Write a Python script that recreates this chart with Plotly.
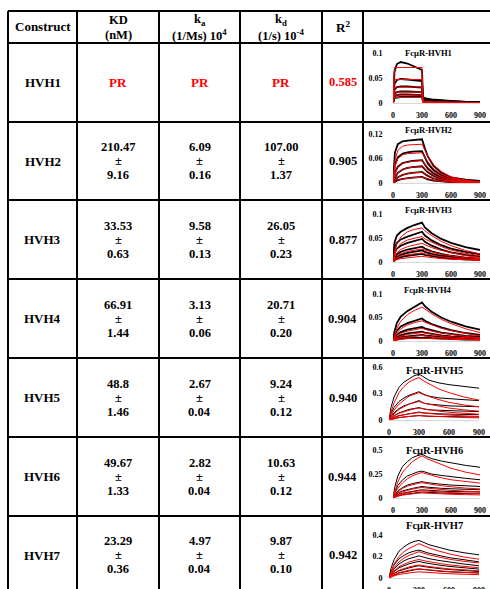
import plotly.graph_objects as go

# ---------------- table data ----------------
constructs = ["HVH1", "HVH2", "HVH3", "HVH4", "HVH5", "HVH6", "HVH7"]
kd_nm = ["PR", "210.47", "33.53", "66.91", "48.8", "49.67", "23.29"]
kd_nm_err = [None, "9.16", "0.63", "1.44", "1.46", "1.33", "0.36"]
ka_vals = ["PR", "6.09", "9.58", "3.13", "2.67", "2.82", "4.97"]
ka_err = [None, "0.16", "0.13", "0.06", "0.04", "0.04", "0.04"]
kdis_vals = ["PR", "107.00", "26.05", "20.71", "9.24", "10.63", "9.87"]
kdis_err = [None, "1.37", "0.23", "0.20", "0.12", "0.12", "0.10"]
r2_vals = ["0.585", "0.905", "0.877", "0.904", "0.940", "0.944", "0.942"]
poor = [True, False, False, False, False, False, False]

# ---------------- sensorgram data ----------------
t_hvh1 = [0, 15, 40, 80, 150, 220, 300, 310, 340, 400, 500, 600, 750, 900]
hvh1_data = [
    [0, 0.062, 0.078, 0.082, 0.079, 0.073, 0.066, 0.012, 0.009, 0.007, 0.005, 0.004, 0.002, 0.001],
    [0, 0.038, 0.046, 0.048, 0.047, 0.046, 0.044, 0.009, 0.007, 0.006, 0.004, 0.003, 0.002, 0.001],
    [0, 0.026, 0.032, 0.033, 0.033, 0.032, 0.031, 0.007, 0.006, 0.005, 0.004, 0.003, 0.002, 0.001],
    [0, 0.018, 0.022, 0.023, 0.023, 0.022, 0.022, 0.006, 0.005, 0.004, 0.003, 0.002, 0.001, 0.001],
    [0, 0.013, 0.016, 0.017, 0.017, 0.017, 0.016, 0.005, 0.004, 0.003, 0.002, 0.002, 0.001, 0.000],
    [0, 0.009, 0.011, 0.012, 0.012, 0.012, 0.012, 0.004, 0.003, 0.002, 0.002, 0.001, 0.001, 0.000],
]
hvh1_fit = [
    [0, 0.071, 0.071, 0.071, 0.071, 0.071, 0.071, 0.002, 0.002, 0.002, 0.001, 0.001, 0.001, 0.001],
    [0, 0.047, 0.047, 0.047, 0.047, 0.047, 0.047, 0.002, 0.002, 0.002, 0.001, 0.001, 0.001, 0.001],
    [0, 0.032, 0.032, 0.032, 0.032, 0.032, 0.032, 0.002, 0.002, 0.001, 0.001, 0.001, 0.001, 0.000],
    [0, 0.022, 0.022, 0.022, 0.022, 0.022, 0.022, 0.001, 0.001, 0.001, 0.001, 0.001, 0.000, 0.000],
    [0, 0.016, 0.016, 0.016, 0.016, 0.016, 0.016, 0.001, 0.001, 0.001, 0.001, 0.000, 0.000, 0.000],
    [0, 0.011, 0.011, 0.011, 0.011, 0.011, 0.011, 0.001, 0.001, 0.001, 0.000, 0.000, 0.000, 0.000],
]

t_hvh2 = [0, 20, 50, 100, 150, 200, 300, 330, 360, 420, 500, 600, 750, 900]
hvh2_data = [
    [0, 0.075, 0.095, 0.102, 0.104, 0.105, 0.107, 0.085, 0.065, 0.042, 0.025, 0.014, 0.008, 0.005],
    [0, 0.045, 0.063, 0.072, 0.075, 0.077, 0.078, 0.062, 0.048, 0.031, 0.019, 0.011, 0.006, 0.004],
    [0, 0.025, 0.040, 0.049, 0.052, 0.054, 0.056, 0.045, 0.035, 0.023, 0.014, 0.008, 0.005, 0.003],
    [0, 0.013, 0.025, 0.033, 0.037, 0.039, 0.041, 0.033, 0.026, 0.017, 0.010, 0.006, 0.004, 0.002],
    [0, 0.007, 0.014, 0.020, 0.023, 0.025, 0.027, 0.022, 0.017, 0.011, 0.007, 0.004, 0.002, 0.001],
    [0, 0.003, 0.007, 0.010, 0.012, 0.013, 0.015, 0.012, 0.009, 0.006, 0.004, 0.002, 0.001, 0.001],
]
hvh2_fit = [
    [0, 0.055, 0.080, 0.090, 0.093, 0.094, 0.095, 0.080, 0.066, 0.045, 0.028, 0.015, 0.007, 0.003],
    [0, 0.040, 0.060, 0.069, 0.072, 0.073, 0.074, 0.063, 0.052, 0.035, 0.022, 0.012, 0.006, 0.003],
    [0, 0.024, 0.039, 0.048, 0.051, 0.053, 0.055, 0.047, 0.038, 0.026, 0.016, 0.009, 0.004, 0.002],
    [0, 0.014, 0.025, 0.033, 0.037, 0.039, 0.040, 0.034, 0.028, 0.019, 0.012, 0.006, 0.003, 0.001],
    [0, 0.007, 0.014, 0.020, 0.023, 0.025, 0.026, 0.022, 0.018, 0.012, 0.008, 0.004, 0.002, 0.001],
    [0, 0.003, 0.007, 0.010, 0.012, 0.013, 0.014, 0.012, 0.010, 0.007, 0.004, 0.002, 0.001, 0.000],
]

t_hvh3 = [0, 15, 40, 80, 150, 220, 300, 330, 400, 500, 600, 750, 900]
hvh3_data = [
    [0, 0.040, 0.055, 0.063, 0.071, 0.077, 0.082, 0.072, 0.060, 0.048, 0.040, 0.031, 0.025],
    [0, 0.028, 0.040, 0.047, 0.053, 0.058, 0.063, 0.055, 0.045, 0.035, 0.028, 0.021, 0.016],
    [0, 0.018, 0.028, 0.034, 0.040, 0.044, 0.048, 0.042, 0.034, 0.026, 0.020, 0.015, 0.011],
    [0, 0.010, 0.016, 0.021, 0.026, 0.029, 0.032, 0.028, 0.022, 0.017, 0.013, 0.009, 0.007],
    [0, 0.007, 0.011, 0.015, 0.019, 0.022, 0.024, 0.021, 0.017, 0.013, 0.010, 0.007, 0.005],
    [0, 0.004, 0.007, 0.010, 0.013, 0.015, 0.017, 0.015, 0.012, 0.009, 0.007, 0.005, 0.004],
]
hvh3_fit = [
    [0, 0.020, 0.038, 0.052, 0.063, 0.068, 0.071, 0.065, 0.055, 0.043, 0.034, 0.024, 0.017],
    [0, 0.015, 0.028, 0.038, 0.046, 0.050, 0.053, 0.048, 0.041, 0.032, 0.025, 0.018, 0.013],
    [0, 0.010, 0.019, 0.026, 0.032, 0.036, 0.039, 0.036, 0.030, 0.024, 0.019, 0.013, 0.010],
    [0, 0.006, 0.012, 0.017, 0.022, 0.025, 0.027, 0.025, 0.021, 0.016, 0.013, 0.009, 0.007],
    [0, 0.004, 0.008, 0.012, 0.015, 0.017, 0.019, 0.017, 0.014, 0.011, 0.009, 0.006, 0.005],
    [0, 0.002, 0.005, 0.007, 0.009, 0.011, 0.012, 0.011, 0.009, 0.007, 0.006, 0.004, 0.003],
]

t_hvh4 = [0, 15, 40, 80, 150, 220, 300, 330, 400, 500, 600, 750, 900]
hvh4_data = [
    [0, 0.020, 0.038, 0.052, 0.064, 0.073, 0.082, 0.074, 0.062, 0.050, 0.041, 0.031, 0.024],
    [0, 0.012, 0.022, 0.031, 0.038, 0.043, 0.048, 0.043, 0.036, 0.029, 0.023, 0.017, 0.013],
    [0, 0.007, 0.013, 0.019, 0.024, 0.027, 0.030, 0.027, 0.023, 0.018, 0.015, 0.011, 0.009],
    [0, 0.004, 0.008, 0.012, 0.016, 0.018, 0.020, 0.018, 0.015, 0.012, 0.010, 0.008, 0.006],
    [0, 0.003, 0.005, 0.008, 0.010, 0.012, 0.013, 0.012, 0.010, 0.008, 0.007, 0.005, 0.004],
    [0, 0.002, 0.003, 0.005, 0.006, 0.007, 0.008, 0.007, 0.006, 0.005, 0.004, 0.003, 0.003],
]
hvh4_fit = [
    [0, 0.012, 0.027, 0.042, 0.056, 0.065, 0.072, 0.068, 0.058, 0.046, 0.037, 0.026, 0.018],
    [0, 0.008, 0.017, 0.026, 0.034, 0.039, 0.043, 0.040, 0.034, 0.027, 0.022, 0.016, 0.011],
    [0, 0.005, 0.010, 0.016, 0.021, 0.024, 0.027, 0.025, 0.021, 0.017, 0.014, 0.010, 0.007],
    [0, 0.003, 0.007, 0.010, 0.014, 0.016, 0.018, 0.017, 0.014, 0.011, 0.009, 0.007, 0.005],
    [0, 0.002, 0.004, 0.007, 0.009, 0.011, 0.012, 0.011, 0.009, 0.007, 0.006, 0.004, 0.003],
    [0, 0.001, 0.002, 0.004, 0.005, 0.006, 0.007, 0.006, 0.005, 0.004, 0.003, 0.003, 0.002],
]

t_hvh5 = [0, 20, 50, 100, 150, 200, 250, 300, 350, 400, 500, 600, 750, 900]
hvh5_data = [
    [0, 0.14, 0.26, 0.37, 0.43, 0.47, 0.50, 0.52, 0.48, 0.45, 0.42, 0.40, 0.38, 0.36],
    [0, 0.07, 0.14, 0.21, 0.25, 0.28, 0.30, 0.32, 0.29, 0.27, 0.25, 0.24, 0.23, 0.22],
    [0, 0.04, 0.08, 0.13, 0.16, 0.18, 0.20, 0.22, 0.19, 0.18, 0.17, 0.16, 0.155, 0.15],
    [0, 0.025, 0.05, 0.08, 0.10, 0.12, 0.13, 0.14, 0.125, 0.115, 0.11, 0.105, 0.10, 0.095],
    [0, 0.015, 0.03, 0.05, 0.06, 0.07, 0.08, 0.09, 0.08, 0.075, 0.07, 0.067, 0.063, 0.06],
    [0, 0.008, 0.016, 0.027, 0.035, 0.041, 0.046, 0.05, 0.045, 0.042, 0.04, 0.038, 0.036, 0.034],
]
hvh5_fit = [
    [0, 0.09, 0.19, 0.31, 0.38, 0.43, 0.46, 0.48, 0.44, 0.41, 0.35, 0.31, 0.26, 0.225],
    [0, 0.05, 0.11, 0.18, 0.23, 0.27, 0.29, 0.31, 0.285, 0.265, 0.23, 0.20, 0.17, 0.15],
    [0, 0.03, 0.07, 0.12, 0.15, 0.18, 0.195, 0.21, 0.19, 0.18, 0.155, 0.135, 0.115, 0.10],
    [0, 0.02, 0.045, 0.075, 0.095, 0.11, 0.125, 0.135, 0.125, 0.115, 0.10, 0.088, 0.075, 0.065],
    [0, 0.012, 0.027, 0.046, 0.06, 0.07, 0.078, 0.085, 0.078, 0.072, 0.063, 0.055, 0.047, 0.04],
    [0, 0.007, 0.016, 0.027, 0.035, 0.041, 0.046, 0.05, 0.046, 0.043, 0.037, 0.033, 0.028, 0.024],
]

t_hvh6 = [0, 20, 50, 100, 150, 200, 250, 300, 350, 400, 500, 600, 750, 900]
hvh6_data = [
    [0, 0.12, 0.23, 0.33, 0.38, 0.42, 0.44, 0.455, 0.43, 0.41, 0.385, 0.365, 0.34, 0.32],
    [0, 0.06, 0.13, 0.19, 0.23, 0.25, 0.27, 0.28, 0.265, 0.25, 0.235, 0.22, 0.205, 0.19],
    [0, 0.035, 0.075, 0.11, 0.135, 0.15, 0.16, 0.17, 0.16, 0.152, 0.143, 0.135, 0.127, 0.12],
    [0, 0.022, 0.05, 0.075, 0.09, 0.10, 0.11, 0.12, 0.113, 0.107, 0.101, 0.096, 0.09, 0.086],
    [0, 0.015, 0.033, 0.05, 0.062, 0.07, 0.078, 0.085, 0.08, 0.076, 0.072, 0.068, 0.065, 0.062],
    [0, 0.01, 0.022, 0.035, 0.044, 0.05, 0.056, 0.062, 0.058, 0.055, 0.052, 0.049, 0.047, 0.045],
]
hvh6_fit = [
    [0, 0.08, 0.17, 0.27, 0.33, 0.38, 0.41, 0.44, 0.41, 0.39, 0.35, 0.31, 0.27, 0.24],
    [0, 0.05, 0.10, 0.16, 0.20, 0.23, 0.25, 0.265, 0.25, 0.235, 0.21, 0.19, 0.17, 0.155],
    [0, 0.03, 0.06, 0.10, 0.125, 0.14, 0.15, 0.16, 0.15, 0.142, 0.128, 0.116, 0.103, 0.095],
    [0, 0.02, 0.04, 0.065, 0.082, 0.093, 0.102, 0.11, 0.103, 0.097, 0.088, 0.08, 0.071, 0.065],
    [0, 0.013, 0.027, 0.044, 0.056, 0.064, 0.071, 0.077, 0.072, 0.068, 0.062, 0.056, 0.05, 0.046],
    [0, 0.009, 0.018, 0.03, 0.038, 0.044, 0.049, 0.053, 0.05, 0.047, 0.043, 0.039, 0.035, 0.032],
]

t_hvh7 = [0, 20, 50, 100, 150, 200, 250, 300, 350, 400, 500, 600, 750, 900]
hvh7_data = [
    [0, 0.09, 0.17, 0.25, 0.29, 0.32, 0.34, 0.35, 0.33, 0.31, 0.285, 0.26, 0.235, 0.215],
    [0, 0.06, 0.12, 0.18, 0.21, 0.235, 0.25, 0.26, 0.245, 0.23, 0.21, 0.19, 0.17, 0.15],
    [0, 0.04, 0.085, 0.13, 0.16, 0.18, 0.195, 0.206, 0.193, 0.18, 0.163, 0.148, 0.13, 0.114],
    [0, 0.028, 0.06, 0.095, 0.117, 0.132, 0.145, 0.154, 0.143, 0.134, 0.12, 0.108, 0.094, 0.083],
    [0, 0.018, 0.04, 0.066, 0.082, 0.094, 0.105, 0.114, 0.106, 0.099, 0.088, 0.079, 0.069, 0.06],
    [0, 0.012, 0.027, 0.046, 0.058, 0.067, 0.075, 0.083, 0.077, 0.072, 0.064, 0.057, 0.05, 0.046],
]
hvh7_fit = [
    [0, 0.06, 0.13, 0.20, 0.245, 0.275, 0.30, 0.32, 0.30, 0.28, 0.25, 0.225, 0.195, 0.175],
    [0, 0.045, 0.095, 0.15, 0.185, 0.21, 0.23, 0.245, 0.23, 0.215, 0.195, 0.175, 0.155, 0.14],
    [0, 0.03, 0.065, 0.105, 0.13, 0.148, 0.162, 0.172, 0.161, 0.151, 0.136, 0.122, 0.107, 0.095],
    [0, 0.02, 0.045, 0.072, 0.09, 0.103, 0.113, 0.121, 0.113, 0.106, 0.095, 0.085, 0.075, 0.067],
    [0, 0.013, 0.03, 0.05, 0.063, 0.072, 0.08, 0.086, 0.08, 0.075, 0.067, 0.06, 0.053, 0.047],
    [0, 0.009, 0.02, 0.033, 0.042, 0.048, 0.053, 0.057, 0.053, 0.05, 0.045, 0.04, 0.035, 0.031],
]

x_ticks = [0, 300, 600, 900]
panel_titles = ["FcμR-HVH1", "FcμR-HVH2", "FcμR-HVH3", "FcμR-HVH4",
                "FcμR-HVH5", "FcμR-HVH6", "FcμR-HVH7"]
y_tickvals = [[0, 0.05, 0.1], [0, 0.06, 0.12], [0, 0.05, 0.1], [0, 0.05, 0.1],
              [0, 0.3, 0.6], [0, 0.25, 0.5], [0, 0.2, 0.4]]
y_ticktext = [["0", "0.05", "0.1"], ["0", "0.06", "0.12"], ["0", "0.05", "0.1"],
              ["0", "0.05", "0.1"], ["0", "0.3", "0.6"], ["0", "0.25", "0.5"],
              ["0", "0.2", "0.4"]]
panel_times = [t_hvh1, t_hvh2, t_hvh3, t_hvh4, t_hvh5, t_hvh6, t_hvh7]
panel_data = [hvh1_data, hvh2_data, hvh3_data, hvh4_data, hvh5_data, hvh6_data, hvh7_data]
panel_fit = [hvh1_fit, hvh2_fit, hvh3_fit, hvh4_fit, hvh5_fit, hvh6_fit, hvh7_fit]

# ---------------- layout geometry (window pixels) ----------------
W, H = 490, 589
def px(x):
    return x / W
def py(y):
    return 1 - y / H

col_x = [8, 77, 159, 240, 322, 363]
row_y = [11, 43, 122, 200, 279, 358, 437, 516]
# plot areas: (x0 px, x900 px, y0 px, ymax px)
plot_box = [(393, 480, 103, 53), (393, 480, 183, 134), (393, 480, 262, 214),
            (393, 480, 341, 294), (389, 479, 420, 367), (393, 480, 498, 450),
            (389, 479, 578, 535)]
title_pos = [(428, 53), (428, 130), (428, 210), (428, 290),
             (434, 370), (434, 450), (434, 525)]
title_size = [8.6, 8.6, 8.6, 8.6, 10.5, 10.5, 10.5]
thick_data = [1.8, 1.8, 1.8, 1.8, 1.0, 1.0, 1.0]
LABEL_RIGHT = 382   # right edge of the y tick labels

SERIF = "Liberation Serif"
RED = "#ff0000"

fig = go.Figure()
layout_axes = {}
annotations = []

for i in range(7):
    n = i + 1
    xa = "x" if n == 1 else f"x{n}"
    ya = "y" if n == 1 else f"y{n}"
    for ser in panel_data[i]:
        fig.add_trace(go.Scatter(x=panel_times[i], y=ser, mode="lines",
                                 line=dict(color="black", width=thick_data[i]),
                                 xaxis=xa, yaxis=ya, showlegend=False, hoverinfo="skip"))
    for ser in panel_fit[i]:
        fig.add_trace(go.Scatter(x=panel_times[i], y=ser, mode="lines",
                                 line=dict(color=RED, width=1),
                                 xaxis=xa, yaxis=ya, showlegend=False, hoverinfo="skip"))
    x0, x1, y0, y1 = plot_box[i]
    ymax = y_tickvals[i][-1]
    layout_axes["xaxis" if n == 1 else f"xaxis{n}"] = dict(
        domain=[px(x0), px(x1)], range=[0, 900], anchor=ya, automargin=False,
        tickvals=x_ticks, ticktext=[str(v) for v in x_ticks],
        showgrid=False, zeroline=False, showline=True, linecolor="#d9d9d9", linewidth=1,
        ticks="outside", ticklen=4, tickcolor="rgba(0,0,0,0)",
        tickfont=dict(family=SERIF, size=8, color="black", weight="bold"))
    layout_axes["yaxis" if n == 1 else f"yaxis{n}"] = dict(
        domain=[py(y0), py(y1)], range=[0, ymax], anchor=xa, automargin=False,
        tickvals=y_tickvals[i], ticktext=y_ticktext[i],
        showgrid=False, zeroline=False, showline=False,
        ticks="outside", ticklen=max(1, x0 - LABEL_RIGHT - 3), tickcolor="rgba(0,0,0,0)",
        tickfont=dict(family=SERIF, size=8, color="black", weight="bold"))
    tx, ty = title_pos[i]
    annotations.append(dict(x=px(tx), y=py(ty), xref="paper", yref="paper",
                            text=f"<b>{panel_titles[i]}</b>", showarrow=False,
                            xanchor="center", yanchor="middle",
                            font=dict(family=SERIF, size=title_size[i], color="black")))

# ---------------- table grid ----------------
shapes = []
LW = 2
for yy in row_y:
    shapes.append(dict(type="line", xref="paper", yref="paper",
                       x0=px(col_x[0]), x1=1.05, y0=py(yy), y1=py(yy),
                       line=dict(color="black", width=LW)))
for xx in col_x:
    shapes.append(dict(type="line", xref="paper", yref="paper",
                       x0=px(xx), x1=px(xx), y0=py(row_y[0]), y1=-0.05,
                       line=dict(color="black", width=LW)))

def txt(x, y, s, size=12.5, color="black"):
    annotations.append(dict(x=px(x), y=py(y), xref="paper", yref="paper",
                            text=f"<b>{s}</b>", showarrow=False,
                            xanchor="center", yanchor="middle",
                            font=dict(family=SERIF, size=size, color=color)))

col_c = [(col_x[k] + col_x[k + 1]) / 2 for k in range(5)]
# header
txt(col_c[0], 27, "Construct", 13)
txt(col_c[1], 20, "KD", 12.5)
txt(col_c[1], 35, "(nM)", 12.5)
txt(col_c[2], 20, "k<sub>a</sub>", 12.5)
txt(col_c[2], 35, "(1/Ms) 10<sup>4</sup>", 12.5)
txt(col_c[3], 20, "k<sub>d</sub>", 12.5)
txt(col_c[3], 35, "(1/s) 10<sup>-4</sup>", 12.5)
txt(col_c[4], 27, "R<sup>2</sup>", 13)

for r in range(7):
    yc = (row_y[r + 1] + (row_y[r + 2] if r + 2 < len(row_y) else 594)) / 2
    txt(col_c[0], yc, constructs[r], 13)
    clr = RED if poor[r] else "black"
    for k, (v, e) in enumerate([(kd_nm[r], kd_nm_err[r]), (ka_vals[r], ka_err[r]),
                                (kdis_vals[r], kdis_err[r])]):
        if e is None:
            txt(col_c[k + 1], yc, v, 13, clr)
        else:
            txt(col_c[k + 1], yc - 14, v, 12.5)
            txt(col_c[k + 1], yc, "±", 12.5)
            txt(col_c[k + 1], yc + 14, e, 12.5)
    txt(col_c[4], yc, r2_vals[r], 12.5, clr)

fig.update_layout(width=W, height=H, margin=dict(l=0, r=0, t=0, b=0, autoexpand=False),
                  paper_bgcolor="white", plot_bgcolor="white",
                  font=dict(family=SERIF, color="black"),
                  shapes=shapes, annotations=annotations, showlegend=False,
                  **layout_axes)

# remove the page's default body margin so figure pixels equal window pixels
fig.write_html("out.html", config={"displayModeBar": False},
               post_script="document.body.style.margin='0';"
                           "document.documentElement.style.overflow='hidden';")
